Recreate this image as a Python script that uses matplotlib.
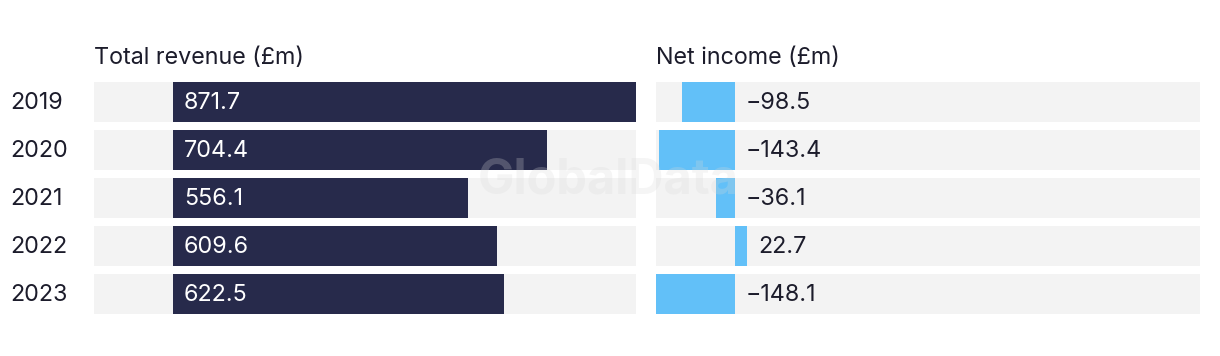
import matplotlib
matplotlib.use("Agg")
import matplotlib.pyplot as plt

years = ["2019", "2020", "2021", "2022", "2023"]
revenue = [871.7, 704.4, 556.1, 609.6, 622.5]
net_income = [-98.5, -143.4, -36.1, 22.7, -148.1]
titles = ["Total revenue (£m)", "Net income (£m)"]

NAVY = "#272a4b"
BLUE = "#62c0f8"
BG = "#f3f3f3"
TEXT = "#1c1c2b"

plt.rcParams["font.family"] = ["Inter", "DejaVu Sans"]

W, H = 1220, 356
fig = plt.figure(figsize=(W / 100, H / 100), dpi=100)

# shared scale for both panels
lo = min(min(net_income), 0)
hi = max(max(revenue), max(net_income))


def px_axes(x0, x1, y0, y1):
    return fig.add_axes([x0 / W, 1 - y1 / H, (x1 - x0) / W, (y1 - y0) / H])


def setup(ax):
    ax.set_xlim(lo, hi)
    ax.set_ylim(len(years) - 0.5, -0.5)
    ax.axis("off")
    ax.barh(range(len(years)), [hi - lo] * len(years), left=lo,
            height=40 / 48, color=BG, zorder=1)


ax1 = px_axes(94, 636, 78, 318)
ax2 = px_axes(656, 1200, 78, 318)
setup(ax1)
setup(ax2)

ax1.barh(range(len(years)), revenue, height=40 / 48, color=NAVY, zorder=2)
ax2.barh(range(len(years)), net_income, height=40 / 48, color=BLUE, zorder=2)

pad = 11 / (542 / (hi - lo))
fs = 16.8
for i, v in enumerate(revenue):
    ax1.text(pad, i + 0.02, f"{v:.1f}", color="white", fontsize=fs,
             va="center", ha="left", zorder=3)
    ax1.text(-0.155, i + 0.02, years[i], transform=ax1.get_yaxis_transform(),
             color=TEXT, fontsize=fs, va="center", ha="left")
for i, v in enumerate(net_income):
    label = f"{v:.1f}".replace("-", "\u2212")
    ax2.text(max(v, 0) + pad, i + 0.02, label, color=TEXT, fontsize=fs,
             va="center", ha="left", zorder=3)

fig.text(94 / W, 1 - 58 / H, titles[0], color=TEXT, fontsize=fs,
         va="center", ha="left")
fig.text(656 / W, 1 - 58 / H, titles[1], color=TEXT, fontsize=fs,
         va="center", ha="left")

fig.text(608 / W, 1 - 181 / H, "GlobalData", color="#d8d8d8", alpha=0.25,
         fontsize=35, fontweight="bold", va="center", ha="center")

fig.savefig("out.png", dpi=100, facecolor="white")
